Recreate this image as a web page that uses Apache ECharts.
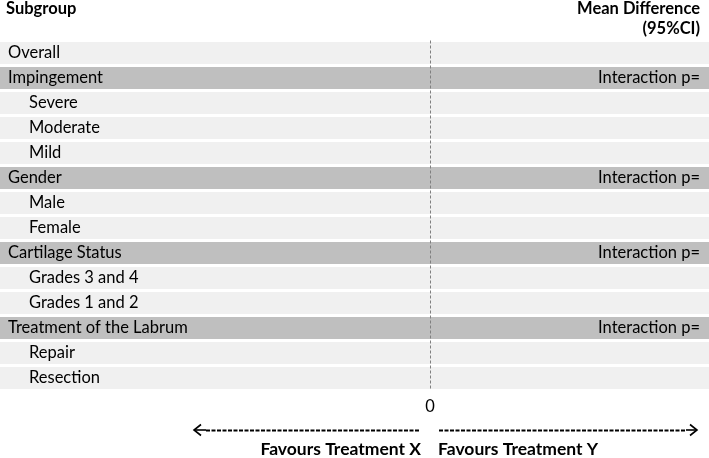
<!DOCTYPE html>
<html>
<head>
<meta charset="utf-8">
<script src="https://cdn.jsdelivr.net/npm/echarts@6/dist/echarts.min.js"></script>
<style>
html,body{margin:0;padding:0;background:#fff;}
#chart{width:709px;height:458px;}
</style>
</head>
<body>
<div id="chart"></div>
<script>
// ---- data ----
const subgroups = ['Overall','Impingement','Severe','Moderate','Mild','Gender','Male','Female','Cartilage Status','Grades 3 and 4','Grades 1 and 2','Treatment of the Labrum','Repair','Resection'];
const rowLevel = [0,0,1,1,1,0,1,1,0,1,1,0,1,1];          // 1 = indented sub-row
const rowHeader = [0,1,0,0,0,1,0,0,1,0,0,1,0,0];         // 1 = dark header band
const interactionLabels = ['','Interaction p=','','','','Interaction p=','','','Interaction p=','','','Interaction p=','',''];
const xTickLabels = [0];
const headerLeft = 'Subgroup';
const headerRight = ['Mean Difference','(95%CI)'];
const favours = ['Favours Treatment X','Favours Treatment Y'];

const FONT = 'Lato';
const FS = 16.5;
const chart = echarts.init(document.getElementById('chart'), null, {renderer:'canvas'});

const bandData = subgroups.map((s, i) => [0, i, rowHeader[i]]);

const option = {
  animation: false,
  backgroundColor: '#ffffff',
  grid: {left: 0, right: 0, top: 40.5, height: 350, containLabel: false},
  xAxis: {
    type: 'value', min: -43, max: 27.9, interval: 43,
    axisLine: {show: false}, axisTick: {show: false}, splitLine: {show: false},
    axisLabel: {
      margin: 8, color: '#000', fontFamily: FONT, fontSize: FS,
      showMaxLabel: false, showMinLabel: false,
      formatter: v => xTickLabels.indexOf(v) >= 0 ? String(v) : ''
    }
  },
  yAxis: [
    {
      type: 'category', data: subgroups, inverse: true, position: 'left', z: 10,
      axisLine: {show: false}, axisTick: {show: false}, splitLine: {show: false},
      axisLabel: {
        inside: true, margin: 8, color: '#000', fontFamily: FONT, fontSize: FS,
        formatter: (v, i) => rowLevel[i] ? '{sub|' + v + '}' : '{top|' + v + '}',
        rich: {
          top: {fontFamily: FONT, fontSize: FS, color: '#000'},
          sub: {fontFamily: FONT, fontSize: FS, color: '#000', padding: [0,0,0,21]}
        }
      }
    },
    {
      type: 'category', data: subgroups, inverse: true, position: 'right', z: 10,
      axisLine: {show: false}, axisTick: {show: false}, splitLine: {show: false},
      axisLabel: {
        inside: true, margin: 9, color: '#000', fontFamily: FONT, fontSize: FS,
        formatter: (v, i) => interactionLabels[i]
      }
    }
  ],
  series: [{
    type: 'custom', z: 1,
    xAxisIndex: 0, yAxisIndex: 0,
    encode: {x: 0, y: 1},
    data: bandData,
    renderItem: function (params, api) {
      const y = api.coord([0, api.value(1)])[1];
      const cs = params.coordSys;
      return {
        type: 'rect',
        shape: {x: cs.x, y: y - 11, width: cs.width, height: 22},
        style: {fill: api.value(2) ? '#bfbfbf' : '#f0f0f0'}
      };
    },
    markLine: {
      silent: true, symbol: 'none', z: 5,
      label: {show: false},
      lineStyle: {type: [3, 2], color: '#7f7f7f', width: 1},
      data: [{xAxis: 0}]
    }
  }],
  graphic: [
    {type: 'text', x: 6, y: 9, style: {text: headerLeft, font: 'bold 16.5px ' + FONT, fill: '#000', textAlign: 'left', textVerticalAlign: 'middle'}},
    {type: 'text', x: 700, y: 9, style: {text: headerRight[0], font: 'bold 16.5px ' + FONT, fill: '#000', textAlign: 'right', textVerticalAlign: 'middle'}},
    {type: 'text', x: 700, y: 29, style: {text: headerRight[1], font: 'bold 16.5px ' + FONT, fill: '#000', textAlign: 'right', textVerticalAlign: 'middle'}},
    {type: 'text', x: 421, y: 449, style: {text: favours[0], font: 'bold 17.5px ' + FONT, fill: '#000', textAlign: 'right', textVerticalAlign: 'middle'}},
    {type: 'text', x: 438, y: 449, style: {text: favours[1], font: 'bold 17.5px ' + FONT, fill: '#000', textAlign: 'left', textVerticalAlign: 'middle'}},
    // left arrow
    {type: 'line', shape: {x1: 194, y1: 430, x2: 206, y2: 430}, style: {stroke: '#000', lineWidth: 1.6}},
    {type: 'polyline', shape: {points: [[201, 424.5], [194, 430], [201, 435.5]]}, style: {stroke: '#000', lineWidth: 1.6, fill: null}},
    {type: 'line', shape: {x1: 206, y1: 430.5, x2: 419, y2: 430.5}, style: {stroke: '#000', lineWidth: 2, lineDash: [4, 1.5]}},
    // right arrow
    {type: 'line', shape: {x1: 439, y1: 430.5, x2: 686, y2: 430.5}, style: {stroke: '#000', lineWidth: 2, lineDash: [4, 1.5]}},
    {type: 'line', shape: {x1: 686, y1: 430, x2: 697, y2: 430}, style: {stroke: '#000', lineWidth: 1.6}},
    {type: 'polyline', shape: {points: [[690, 424.5], [697, 430], [690, 435.5]]}, style: {stroke: '#000', lineWidth: 1.6, fill: null}}
  ]
};
chart.setOption(option);
</script>
</body>
</html>
